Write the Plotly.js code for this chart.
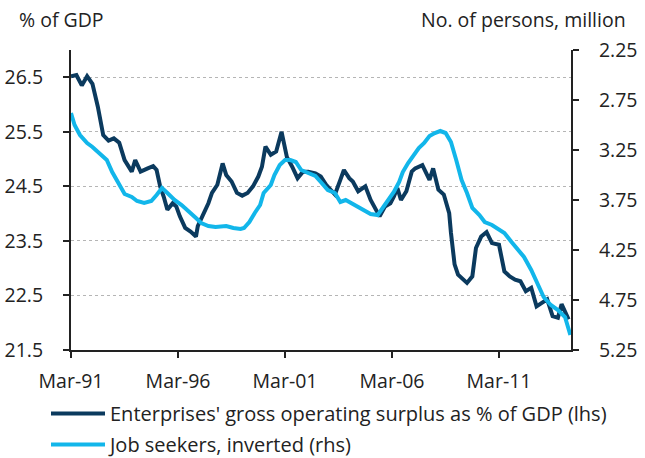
<!DOCTYPE html>
<html>
<head>
<meta charset="utf-8">
<script src="https://cdn.plot.ly/plotly-3.0.1.min.js"></script>
<style>html,body{margin:0;padding:0;background:#fff;}#chart{width:645px;height:458px;}</style>
</head>
<body>
<div id="chart"></div>
<script>
// Enterprises' gross operating surplus as % of GDP (lhs)
var surplusDates = ["1991-03","1991-06","1991-09","1991-12","1992-03","1992-06","1992-09","1992-12","1993-03","1993-06","1993-09","1994-01","1994-03","1994-06","1994-10","1995-01","1995-03","1995-05","1995-07","1995-09","1995-12","1996-02","1996-04","1996-07","1996-10","1997-01","1997-02","1997-05","1997-08","1997-10","1998-01","1998-04","1998-06","1998-09","1998-12","1999-03","1999-06","1999-09","1999-12","2000-02","2000-04","2000-07","2000-10","2001-01","2001-04","2001-07","2001-10","2002-01","2002-04","2002-08","2002-11","2003-02","2003-05","2003-07","2003-10","2003-12","2004-03","2004-05","2004-08","2004-12","2005-03","2005-05","2005-08","2005-11","2006-02","2006-04","2006-06","2006-08","2006-11","2007-02","2007-04","2007-08","2007-12","2008-02","2008-05","2008-08","2008-11","2008-12","2009-02","2009-04","2009-09","2009-12","2010-02","2010-05","2010-08","2010-11","2011-03","2011-06","2011-09","2011-12","2012-03","2012-06","2012-09","2012-12","2013-03","2013-06","2013-09","2013-12","2014-02","2014-05","2014-06"];
var surplusValues = [26.52,26.54,26.35,26.52,26.38,25.96,25.44,25.34,25.38,25.30,24.98,24.77,24.98,24.77,24.83,24.87,24.80,24.50,24.31,24.07,24.19,24.13,23.95,23.74,23.67,23.58,23.77,23.98,24.19,24.38,24.53,24.92,24.71,24.59,24.38,24.33,24.38,24.50,24.68,24.86,25.23,25.08,25.14,25.50,25.04,24.86,24.65,24.77,24.77,24.74,24.68,24.53,24.41,24.35,24.62,24.80,24.65,24.59,24.41,24.50,24.25,24.13,23.95,24.13,24.19,24.31,24.47,24.25,24.41,24.77,24.83,24.89,24.62,24.83,24.44,24.35,24.01,23.65,23.07,22.88,22.73,22.85,23.37,23.58,23.66,23.46,23.43,22.94,22.85,22.79,22.76,22.58,22.64,22.30,22.37,22.43,22.12,22.09,22.34,22.12,22.06];

// Job seekers, million persons (rhs, inverted)
var seekerDates = ["1991-03","1991-05","1991-08","1991-12","1992-03","1992-07","1992-11","1993-02","1993-06","1993-09","1994-01","1994-04","1994-08","1994-12","1995-03","1995-06","1995-09","1996-01","1996-05","1996-09","1997-01","1997-04","1997-08","1997-12","1998-03","1998-06","1998-10","1999-02","1999-04","1999-07","1999-10","2000-01","2000-03","2000-07","2000-09","2000-12","2001-03","2001-06","2001-09","2001-12","2002-04","2002-08","2002-11","2003-03","2003-07","2003-10","2004-01","2004-04","2004-08","2004-12","2005-03","2005-07","2005-10","2006-01","2006-04","2006-07","2006-09","2006-12","2007-03","2007-06","2007-09","2007-12","2008-03","2008-06","2008-09","2008-12","2009-03","2009-06","2009-09","2009-12","2010-04","2010-07","2010-11","2011-03","2011-06","2011-10","2012-02","2012-05","2012-09","2013-01","2013-04","2013-08","2013-12","2014-04","2014-06","2014-07"];
var seekerValues = [2.88,3.00,3.10,3.18,3.22,3.28,3.35,3.47,3.60,3.69,3.72,3.76,3.78,3.76,3.70,3.63,3.68,3.75,3.80,3.86,3.93,3.98,4.01,4.02,4.02,4.01,4.03,4.04,4.03,3.97,3.88,3.80,3.68,3.60,3.50,3.40,3.35,3.35,3.37,3.45,3.48,3.51,3.57,3.65,3.68,3.77,3.75,3.78,3.83,3.87,3.89,3.90,3.82,3.75,3.67,3.57,3.47,3.38,3.30,3.23,3.18,3.11,3.08,3.06,3.08,3.17,3.35,3.55,3.68,3.83,3.90,3.97,4.00,4.04,4.08,4.17,4.25,4.32,4.45,4.60,4.72,4.80,4.85,4.92,5.03,5.10];

var xTickVals = ["1991-03-01","1996-03-01","2001-03-01","2006-03-01","2011-03-01"];
var leftTicks = [21.5,22.5,23.5,24.5,25.5,26.5];
var rightTicks = [2.25,2.75,3.25,3.75,4.25,4.75,5.25];

var FONT = "'Open Sans', sans-serif";
var TXT = "#222";
var FS = 19.5;

var traces = [
  {x: surplusDates, y: surplusValues, type: "scatter", mode: "lines", name: "Enterprises' gross operating surplus as % of GDP (lhs)",
   line: {color: "#0B3A5E", width: 4}, yaxis: "y", legendgroup: "a"},
  {x: seekerDates, y: seekerValues, type: "scatter", mode: "lines", name: "Job seekers, inverted (rhs)",
   line: {color: "#12B6EA", width: 4}, yaxis: "y2", legendgroup: "b"}
];

var layout = {
  width: 645, height: 458,
  margin: {l: 71, r: 74, t: 50, b: 108, autoexpand: false},
  paper_bgcolor: "#fff", plot_bgcolor: "#fff",
  font: {family: FONT, size: FS, color: TXT},
  showlegend: true,
  legend: {x: -0.05, xanchor: "left", y: -0.147, yanchor: "top", orientation: "v", itemwidth: 54,
           font: {family: FONT, size: 20, color: TXT}, tracegroupgap: 2, bgcolor: "rgba(0,0,0,0)"},
  xaxis: {type: "date", range: ["1991-03-01", "2014-07-12"], tickvals: xTickVals, tickformat: "%b-%y",
          showline: true, linecolor: "#222", linewidth: 2, ticks: "outside", ticklen: 6, tickwidth: 2, tickcolor: "#222",
          showgrid: false, zeroline: false, ticklabelstandoff: 7, tickfont: {family: FONT, size: FS, color: TXT}},
  yaxis: {range: [21.5, 27.0], tickvals: leftTicks, tickformat: ".1f",
          showline: true, linecolor: "#222", linewidth: 2, ticks: "outside", ticklen: 6, tickwidth: 2, tickcolor: "#222",
          showgrid: true, gridcolor: "#b5b5b5", gridwidth: 1, griddash: "dot", zeroline: false,
          ticklabelstandoff: 16, tickfont: {family: FONT, size: FS, color: TXT}},
  yaxis2: {overlaying: "y", side: "right", range: [5.25, 2.25], tickvals: rightTicks, tickformat: ".2f",
           showline: true, linecolor: "#222", linewidth: 2, ticks: "outside", ticklen: 6, tickwidth: 2, tickcolor: "#222",
           showgrid: false, zeroline: false, ticklabelstandoff: 16, tickfont: {family: FONT, size: FS, color: TXT}},
  annotations: [
    {text: "% of GDP", xref: "paper", yref: "paper", x: -0.1086, y: 1.103, xanchor: "left", yanchor: "middle",
     showarrow: false, font: {family: FONT, size: FS, color: TXT}},
    {text: "No. of persons, million", xref: "paper", yref: "paper", x: 1.114, y: 1.103, xanchor: "right", yanchor: "middle",
     showarrow: false, font: {family: FONT, size: FS, color: TXT}}
  ]
};

Plotly.newPlot("chart", traces, layout, {displayModeBar: false, staticPlot: true});
</script>
</body>
</html>
